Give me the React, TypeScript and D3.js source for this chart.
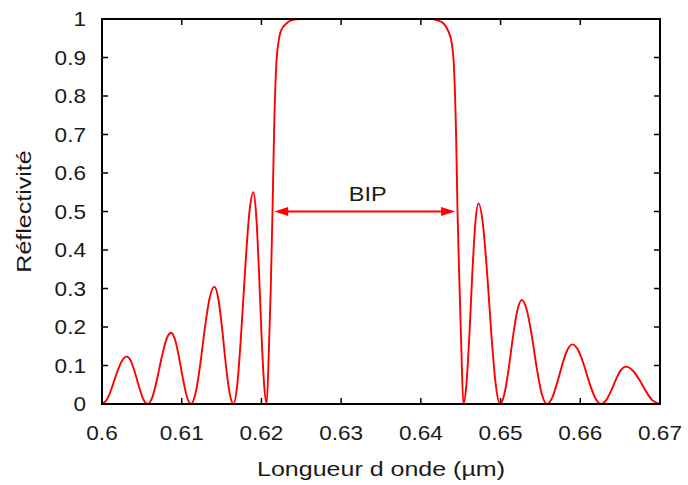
import React from "react";
import * as d3 from "d3";

const wavelengths = [
  0.6, 0.60062, 0.60124, 0.60186, 0.60248, 0.6031, 0.60363, 0.60415, 0.60468, 0.6052, 0.60573,
  0.60632, 0.6069, 0.60749, 0.60807, 0.60866, 0.60916, 0.60966, 0.61017, 0.61067, 0.61117,
  0.61175, 0.61234, 0.61292, 0.61351, 0.61409, 0.61457, 0.61505, 0.61552, 0.616, 0.61648,
  0.61698, 0.61748, 0.61799, 0.61849, 0.61899, 0.61932, 0.61966, 0.61999, 0.62033, 0.62066,
  0.62095, 0.62117, 0.62139, 0.62158, 0.62183, 0.62212, 0.62246, 0.62317, 0.62384, 0.62484,
  0.63, 0.636, 0.64141, 0.64203, 0.64282, 0.64341, 0.64388, 0.64417, 0.64442, 0.6446, 0.64486,
  0.64507, 0.64533,
  0.64571, 0.64609, 0.64646, 0.64684, 0.64722, 0.64776, 0.64831, 0.64885, 0.6494, 0.64994,
  0.65048, 0.65103, 0.65157, 0.65212, 0.65266, 0.65329, 0.65392, 0.65454, 0.65517, 0.6558,
  0.65644, 0.65708, 0.65773, 0.65837, 0.65901, 0.65973, 0.66045, 0.66117, 0.66189, 0.66261,
  0.66323, 0.66385, 0.66447, 0.66509, 0.66571, 0.66655, 0.66739, 0.66822, 0.66906, 0.6699,
];

const reflectivity = [
  0, 0.0117, 0.0424, 0.0806, 0.1113, 0.123, 0.1113, 0.0806, 0.0424, 0.0117, 0,
  0.0177, 0.0638, 0.1212, 0.1674, 0.185, 0.1674, 0.1212, 0.0638, 0.0177, 0,
  0.0291, 0.1052, 0.1998, 0.276, 0.305, 0.276, 0.1998, 0.1052, 0.0291, 0,
  0.0525, 0.1898, 0.3603, 0.4978, 0.55, 0.4978, 0.3603, 0.1898, 0.0525, 0,
  0.15, 0.3, 0.5, 0.7, 0.868, 0.937, 0.97, 0.989, 0.997, 1.0,
  1.0, 1.0, 1.0, 0.997, 0.989, 0.97, 0.937, 0.868, 0.7, 0.5, 0.3,
  0.15, 0,
  0.0498, 0.1797, 0.3413, 0.4715, 0.521, 0.4715, 0.3413, 0.1797, 0.0498, 0,
  0.0258, 0.0932, 0.1769, 0.2444, 0.27, 0.2444, 0.1769, 0.0932, 0.0258, 0,
  0.0148, 0.0535, 0.1015, 0.1403, 0.155, 0.1403, 0.1015, 0.0535, 0.0148, 0,
  0.0093, 0.0335, 0.0635, 0.0878, 0.097, 0.0878, 0.0635, 0.0335, 0.0093, 0,
];

const xTicks = [0.6, 0.61, 0.62, 0.63, 0.64, 0.65, 0.66, 0.67];
const xTickLabels = ["0.6", "0.61", "0.62", "0.63", "0.64", "0.65", "0.66", "0.67"];
const yTicks = [0, 0.1, 0.2, 0.3, 0.4, 0.5, 0.6, 0.7, 0.8, 0.9, 1];
const yTickLabels = ["0", "0.1", "0.2", "0.3", "0.4", "0.5", "0.6", "0.7", "0.8", "0.9", "1"];
const bipRange = [0.6216, 0.6443];
const bipLevel = 0.5;
const bipLabel = "BIP";
const xTitle = "Longueur d onde (µm)";
const yTitle = "Réflectivité";

const W = 688;
const H = 485;
const M = { left: 102, right: 28, top: 19, bottom: 81 };
const FONT = "'Liberation Sans', Arial, Helvetica, sans-serif";
const TXT = "#1a1a1a";

export default function App() {
  const x = d3.scaleLinear().domain([0.6, 0.67]).range([M.left, W - M.right]);
  const y = d3.scaleLinear().domain([0, 1]).range([H - M.bottom, M.top]);
  const pts = wavelengths.map((w, i) => [w, reflectivity[i]] as [number, number]);
  const line = d3
    .line<[number, number]>()
    .x((d) => x(d[0]))
    .y((d) => y(d[1]))
    .curve(d3.curveMonotoneX);
  const x0 = M.left, x1 = W - M.right, y0 = H - M.bottom, y1 = M.top;
  const tl = 6;
  const ax1 = x(bipRange[0]);
  const ax2 = x(bipRange[1]);
  const ay = y(bipLevel);
  const hl = 14, hw = 4.5;
  return (
    <svg width={W} height={H} style={{ position: "absolute", left: 0, top: 0, background: "#fff" }} fontFamily={FONT}>
      <rect x={0} y={0} width={W} height={H} fill="#fff" />
      {xTicks.map((t, i) => (
        <g key={"xt" + i}>
          <line x1={x(t)} x2={x(t)} y1={y0} y2={y0 - tl} stroke="#000" strokeWidth={1.5} />
          <line x1={x(t)} x2={x(t)} y1={y1} y2={y1 + tl} stroke="#000" strokeWidth={1.5} />
          <text transform={`translate(${x(t)},440) scale(1.13,1)`} textAnchor="middle" fontSize={20} fill={TXT}>
            {xTickLabels[i]}
          </text>
        </g>
      ))}
      {yTicks.map((t, i) => (
        <g key={"yt" + i}>
          <line x1={x0} x2={x0 + tl} y1={y(t)} y2={y(t)} stroke="#000" strokeWidth={1.5} />
          <line x1={x1} x2={x1 - tl} y1={y(t)} y2={y(t)} stroke="#000" strokeWidth={1.5} />
          <text transform={`translate(86,${y(t)}) scale(1.13,1)`} dy="0.36em" textAnchor="end" fontSize={20} fill={TXT}>
            {yTickLabels[i]}
          </text>
        </g>
      ))}
      <path d={line(pts) || ""} fill="none" stroke="#ff0000" strokeWidth={1.9} />
      <rect x={x0} y={y1} width={x1 - x0} height={y0 - y1} fill="none" stroke="#000" strokeWidth={2} />
      <line x1={ax1 + hl - 1} x2={ax2 - hl + 1} y1={ay} y2={ay} stroke="#ff0000" strokeWidth={2} />
      <path d={`M${ax1},${ay} L${ax1 + hl},${ay - hw} L${ax1 + hl},${ay + hw} Z`} fill="#ff0000" />
      <path d={`M${ax2},${ay} L${ax2 - hl},${ay - hw} L${ax2 - hl},${ay + hw} Z`} fill="#ff0000" />
      <text transform={`translate(${(ax1 + ax2) / 2 + 3},201) scale(1.12,1)`} textAnchor="middle" fontSize={21} fill={TXT}>
        {bipLabel}
      </text>
      <text transform={`translate(${(x0 + x1) / 2},476) scale(1.22,1)`} textAnchor="middle" fontSize={20.5} fill={TXT}>
        {xTitle}
      </text>
      <text transform={`translate(31,${(y0 + y1) / 2}) rotate(-90) scale(1.22,1)`} textAnchor="middle" fontSize={20.5} fill={TXT}>
        {yTitle}
      </text>
    </svg>
  );
}
